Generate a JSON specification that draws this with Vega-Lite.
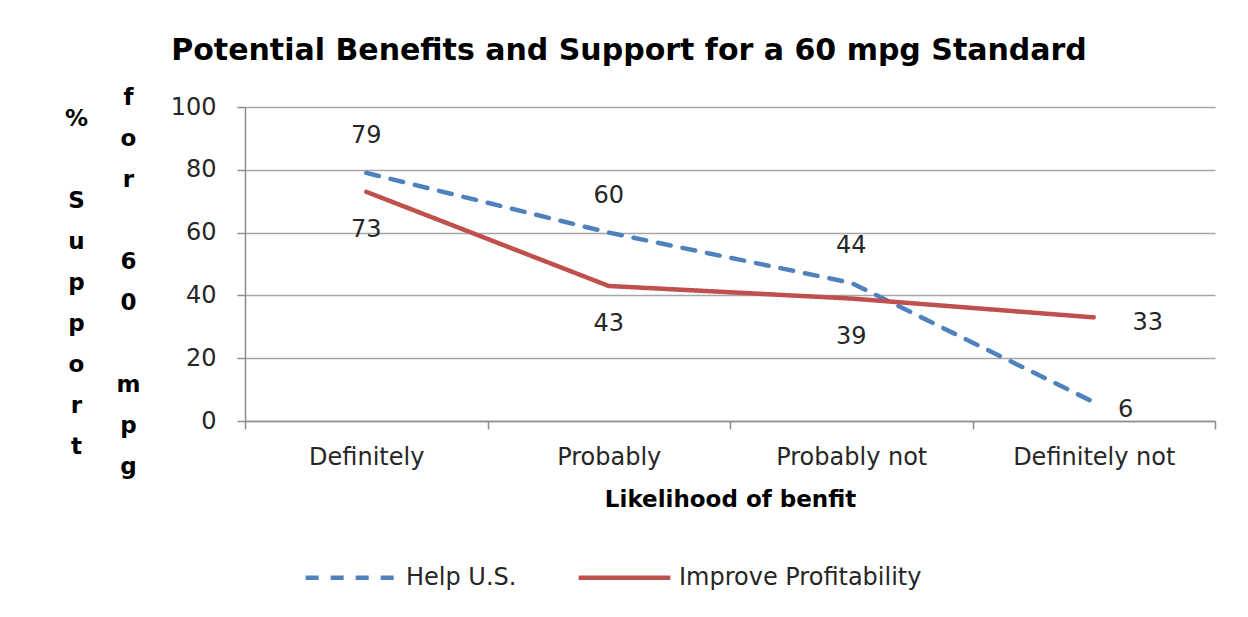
{
  "$schema": "https://vega.github.io/schema/vega-lite/v6.json",
  "width": 970,
  "height": 314,
  "autosize": {"type": "none"},
  "padding": {"left": 245, "top": 107, "right": 33, "bottom": 196},
  "background": "white",
  "config": {
    "font": "DejaVu Sans",
    "view": {"stroke": null},
    "axis": {"labelColor": "#262626", "titleColor": "#000000", "labelFontSize": 24, "titleFontSize": 23, "titleFontWeight": "bold"}
  },
  "title": {
    "text": "Potential Benefits and Support for a 60 mpg Standard",
    "fontSize": 30,
    "fontWeight": "bold",
    "color": "#000000",
    "anchor": "middle",
    "dx": -101,
    "offset": 20
  },
  "data": {
    "values": [
      {"likelihood": "Definitely", "series": "Help U.S.", "pct": 79},
      {"likelihood": "Probably", "series": "Help U.S.", "pct": 60},
      {"likelihood": "Probably not", "series": "Help U.S.", "pct": 44},
      {"likelihood": "Definitely not", "series": "Help U.S.", "pct": 6},
      {"likelihood": "Definitely", "series": "Improve Profitability", "pct": 73},
      {"likelihood": "Probably", "series": "Improve Profitability", "pct": 43},
      {"likelihood": "Probably not", "series": "Improve Profitability", "pct": 39},
      {"likelihood": "Definitely not", "series": "Improve Profitability", "pct": 33}
    ]
  },
  "encoding": {
    "x": {
      "field": "likelihood",
      "type": "nominal",
      "sort": ["Definitely", "Probably", "Probably not", "Definitely not"],
      "scale": {"type": "band", "paddingInner": 0, "paddingOuter": 0},
      "axis": {
        "title": "Likelihood of benfit",
        "labelAngle": 0,
        "tickBand": "extent",
        "tickSize": 8,
        "tickColor": "#8c8c8c",
        "tickWidth": 1.5,
        "domainColor": "#8c8c8c",
        "domainWidth": 1.5,
        "labelPadding": 16,
        "titlePadding": 19,
        "labelBaseline": "top"
      }
    },
    "y": {
      "field": "pct",
      "type": "quantitative",
      "scale": {"domain": [0, 100]},
      "axis": null
    }
  },
  "layer": [
    {
      "mark": {"type": "line", "strokeWidth": 4.5, "strokeCap": "round"},
      "encoding": {
        "y": {
          "field": "pct",
          "type": "quantitative",
          "scale": {"domain": [0, 100]},
          "axis": {
            "orient": "left",
            "values": [0, 20, 40, 60, 80, 100],
            "grid": true,
            "gridColor": "#a6a6a6",
            "gridWidth": 1.5,
            "tickSize": 8,
            "tickColor": "#8c8c8c",
            "tickWidth": 1.5,
            "domainColor": "#8c8c8c",
            "domainWidth": 1.5,
            "labelPadding": 21,
            "title": ["f", "o", "r", "\u200b", "6", "0", "\u200b", "m", "p", "g"],
            "titleAngle": 0,
            "titleAlign": "center",
            "titleBaseline": "middle",
            "titleLineHeight": 41,
            "titleX": -117,
            "titleY": -10
          }
        },
        "color": {
          "field": "series",
          "type": "nominal",
          "scale": {"domain": ["Help U.S.", "Improve Profitability"], "range": ["#4f81bd", "#c0504d"]},
          "legend": {
            "title": null,
            "orient": "none",
            "direction": "horizontal",
            "legendX": 58,
            "legendY": 422,
            "symbolType": "stroke",
            "symbolSize": 8400,
            "symbolStrokeWidth": 4.5,
            "labelFontSize": 24,
            "labelColor": "#262626",
            "labelLimit": 500,
            "labelOffset": 6,
            "columnPadding": 52
          }
        },
        "strokeDash": {
          "field": "series",
          "type": "nominal",
          "scale": {"domain": ["Help U.S.", "Improve Profitability"], "range": [[13, 12], [1, 0]]},
          "legend": {
            "title": null,
            "orient": "none",
            "direction": "horizontal",
            "legendX": 58,
            "legendY": 422,
            "symbolType": "stroke",
            "symbolSize": 8400,
            "symbolStrokeWidth": 4.5,
            "labelFontSize": 24,
            "labelColor": "#262626",
            "labelLimit": 500,
            "labelOffset": 6,
            "columnPadding": 52
          }
        }
      }
    },
    {
      "transform": [{"filter": "datum.series === 'Help U.S.' && datum.likelihood !== 'Definitely not'"}],
      "mark": {"type": "text", "fontSize": 24, "color": "#262626", "dy": -37, "baseline": "middle"},
      "encoding": {
        "text": {"field": "pct", "type": "quantitative"},
        "y": {
          "field": "pct",
          "type": "quantitative",
          "scale": {"domain": [0, 100]},
          "axis": {
            "orient": "left",
            "labels": false,
            "ticks": false,
            "domain": false,
            "grid": false,
            "title": ["%", "\u200b", "S", "u", "p", "p", "o", "r", "t"],
            "titleAngle": 0,
            "titleAlign": "center",
            "titleBaseline": "middle",
            "titleLineHeight": 41,
            "titleX": -169,
            "titleY": 11
          }
        }
      }
    },
    {
      "transform": [{"filter": "datum.series === 'Improve Profitability' && datum.likelihood !== 'Definitely not'"}],
      "mark": {"type": "text", "fontSize": 24, "color": "#262626", "dy": 38, "baseline": "middle"},
      "encoding": {"text": {"field": "pct", "type": "quantitative"}}
    },
    {
      "transform": [{"filter": "datum.series === 'Improve Profitability' && datum.likelihood === 'Definitely not'"}],
      "mark": {"type": "text", "fontSize": 24, "color": "#262626", "dx": 54, "dy": 6, "baseline": "middle"},
      "encoding": {"text": {"field": "pct", "type": "quantitative"}}
    },
    {
      "transform": [{"filter": "datum.series === 'Help U.S.' && datum.likelihood === 'Definitely not'"}],
      "mark": {"type": "text", "fontSize": 24, "color": "#262626", "dx": 32, "dy": 8, "baseline": "middle"},
      "encoding": {"text": {"field": "pct", "type": "quantitative"}}
    }
  ],
  "resolve": {"axis": {"y": "independent"}}
}
